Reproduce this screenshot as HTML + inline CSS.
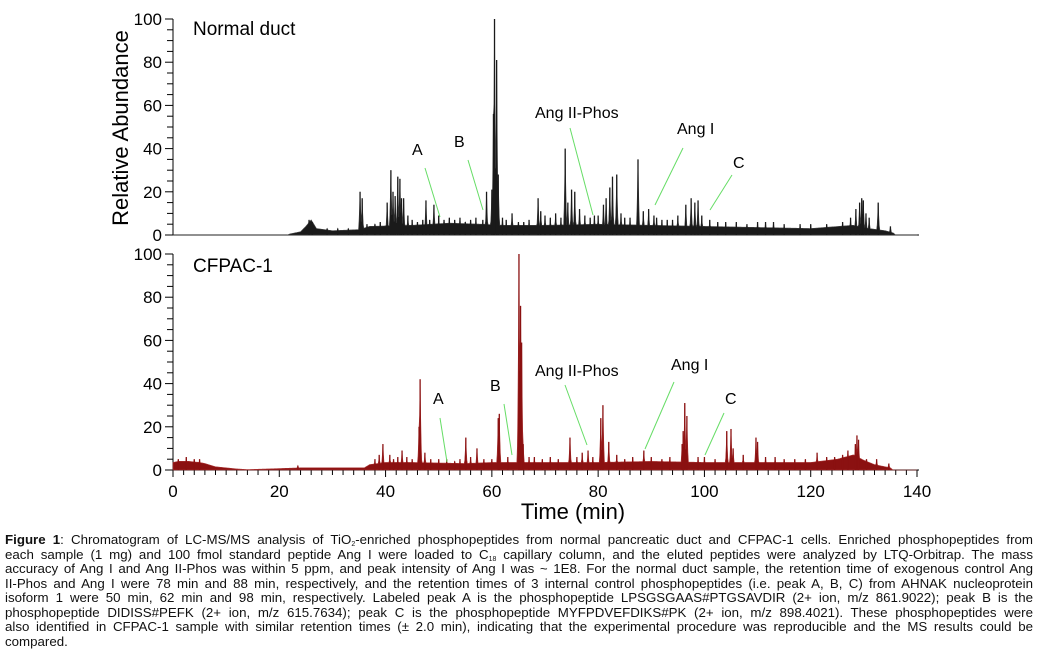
<!DOCTYPE html>
<html><head><meta charset="utf-8">
<style>
body{margin:0;background:#fff;width:1038px;height:669px;overflow:hidden;position:relative;font-family:"Liberation Sans",Arial,sans-serif}
svg{position:absolute;left:0;top:0}
#cap{position:absolute;left:5px;top:533px;width:1028px;font-size:13.3px;line-height:14.55px;color:#111}
#cap div{text-align:justify;text-align-last:justify;white-space:nowrap}
#cap div.last{text-align-last:left}
sub{font-size:7px;vertical-align:-2px;line-height:0}
</style></head><body>
<svg id="chart" width="1038" height="530" viewBox="0 0 1038 530" font-family="Liberation Sans, Arial, sans-serif">
<g id="axes"></g>
<g id="traces"></g>
<text x="128" y="128" font-size="22" text-anchor="middle" transform="rotate(-90 128 128)">Relative Abundance</text>
<text x="573" y="519" font-size="22" text-anchor="middle">Time (min)</text>
<text x="193" y="35" font-size="19">Normal duct</text>
<text x="193" y="272" font-size="19">CFPAC-1</text>
<g stroke="#66dd66" stroke-width="1">
<line x1="425" y1="168" x2="440" y2="217"/><line x1="468" y1="160" x2="483" y2="210"/>
<line x1="570" y1="128" x2="593" y2="215"/><line x1="683" y1="148" x2="655" y2="205"/>
<line x1="732" y1="175" x2="710" y2="210"/>
<line x1="440" y1="418" x2="447" y2="462"/><line x1="504" y1="404" x2="512" y2="455"/>
<line x1="565" y1="385" x2="587" y2="445"/><line x1="674" y1="382" x2="645" y2="449"/>
<line x1="724" y1="413" x2="705" y2="455"/>
</g>
<g font-size="16">
<text x="412" y="155">A</text>
<text x="454" y="147">B</text>
<text x="535" y="118">Ang II-Phos</text>
<text x="677" y="134">Ang I</text>
<text x="733" y="168">C</text>
<text x="433" y="404">A</text>
<text x="490" y="391">B</text>
<text x="535" y="376">Ang II-Phos</text>
<text x="671" y="370">Ang I</text>
<text x="725" y="404">C</text>
</g>
</svg>
<div id="cap">
<div><b>Figure 1</b>: Chromatogram of LC-MS/MS analysis of TiO<sub>2</sub>-enriched phosphopeptides from normal pancreatic duct and CFPAC-1 cells. Enriched phosphopeptides from</div>
<div>each sample (1 mg) and 100 fmol standard peptide Ang I were loaded to C<sub>18</sub> capillary column, and the eluted peptides were analyzed by LTQ-Orbitrap. The mass</div>
<div>accuracy of Ang I and Ang II-Phos was within 5 ppm, and peak intensity of Ang I was ~ 1E8. For the normal duct sample, the retention time of exogenous control Ang</div>
<div>II-Phos and Ang I were 78 min and 88 min, respectively, and the retention times of 3 internal control phosphopeptides (i.e. peak A, B, C) from AHNAK nucleoprotein</div>
<div>isoform 1 were 50 min, 62 min and 98 min, respectively. Labeled peak A is the phosphopeptide LPSGSGAAS#PTGSAVDIR (2+ ion, m/z 861.9022); peak B is the</div>
<div>phosphopeptide DIDISS#PEFK (2+ ion, m/z 615.7634); peak C is the phosphopeptide MYFPDVEFDIKS#PK (2+ ion, m/z 898.4021). These phosphopeptides were</div>
<div>also identified in CFPAC-1 sample with similar retention times (± 2.0 min), indicating that the experimental procedure was reproducible and the MS results could be</div>
<div class="last">compared.</div>
</div>
<script>
// ---- data ----
const xTicks = [0, 20, 40, 60, 80, 100, 120, 140];
const yTicks = [0, 20, 40, 60, 80, 100];
const normalBaseT = [0, 21.5, 22, 24, 25, 26, 27, 30, 35, 37, 45, 52, 58, 62, 70, 80, 90, 100, 110, 120, 128, 131, 134, 135.5, 136, 140];
const normalBaseV = [0, 0, 0.5, 1.5, 4, 7, 3, 2, 2.5, 4, 4.5, 5.5, 5, 4.5, 4.5, 5, 4.5, 4, 3.5, 3, 4.5, 3, 2, 1, 0, 0];
const normalPeakT = [25.6, 26.2, 29, 31, 33, 35.2, 35.6, 36.5, 38, 39, 40.3, 41, 41.4, 41.8, 42.3, 42.7, 43, 43.4, 44.2, 45, 46, 47, 47.6, 48.3, 49.1, 50, 51, 52, 53, 54, 55, 56, 57, 58.3, 59, 60, 60.3, 60.5, 60.9, 61.2, 62, 62.7, 63.8, 65, 66, 67, 68.7, 69.2, 70, 71, 72, 73, 73.8, 74.3, 75, 75.6, 76.5, 77.5, 78.5, 79.3, 80, 81, 81.5, 82.2, 82.7, 83.5, 84.3, 85, 86, 87.5, 88.5, 89.5, 90.5, 91, 92, 93, 94, 95, 96.5, 97.5, 98.2, 98.8, 99.5, 101, 102.5, 104, 106, 108, 110, 111.5, 113, 115, 118, 120, 123, 126, 127.5, 128.5, 129.2, 129.6, 129.9, 130.4, 131, 132.7, 135];
const normalPeakV = [7, 6, 3, 3, 3, 20, 17, 5, 5, 6, 15, 30, 20, 18, 27, 26, 17, 17, 9, 7, 6, 7, 16, 7, 14, 9, 7, 8, 7, 8, 6, 7, 8, 7, 20, 21, 56, 100, 81, 28, 8, 7, 10, 6, 6, 7, 17, 11, 9, 8, 10, 8, 40, 15, 21, 20, 12, 9, 8, 9, 9, 14, 17, 22, 27, 28, 10, 8, 8, 35, 11, 12, 9, 8, 7, 7, 7, 9, 14, 17, 15, 16, 9, 7, 6, 6, 6, 5, 6, 6, 6, 5, 5, 5, 5, 6, 8, 12, 15, 17, 16, 10, 8, 15, 4];
const cfpacBaseT = [0, 1, 3, 5, 6, 8, 10, 12, 14, 18, 24, 30, 36, 37, 40, 45, 55, 60, 66, 80, 90, 100, 110, 120, 125, 128, 130, 132, 134, 135, 135.5, 140];
const cfpacBaseV = [3.5, 4, 4, 3.5, 3, 1.5, 1, 0.5, 0.2, 0.5, 1, 1, 1, 2.5, 3.5, 3.5, 3, 3.5, 3.5, 3.5, 4, 3.5, 3.5, 3.5, 5, 7, 4.5, 2.5, 1.5, 1, 0, 0];
const cfpacPeakT = [1, 2.5, 4, 5, 23.5, 38, 38.8, 39.5, 40.8, 41.5, 42.3, 43.1, 44, 45, 46.3, 46.5, 47.4, 48.5, 50, 51.5, 53, 54, 55.1, 56, 57.2, 58.5, 60, 61.2, 61.4, 63, 65.1, 65.4, 65.6, 65.9, 67, 68, 69.5, 71, 72.5, 74.7, 76, 77, 78.1, 79, 80.5, 80.9, 82, 83.5, 85, 86.5, 88.6, 90, 92, 93.5, 95.8, 96, 96.3, 96.7, 98.8, 100, 102, 104.2, 105, 105.4, 107.3, 109.7, 110, 111.5, 113.3, 115, 117, 119, 121.2, 123, 124.5, 126, 127, 128.4, 128.7, 129, 130.5, 132.4, 134.7];
const cfpacPeakV = [5, 6, 5, 5, 2, 5, 7, 12, 7, 5, 6, 9, 6, 5, 20, 42, 8, 5, 5, 5, 4, 5, 15, 6, 10, 5, 5, 24, 26, 6, 100, 76, 59, 12, 6, 6, 5, 6, 5, 15, 6, 8, 9, 6, 24, 30, 13, 7, 5, 6, 9, 6, 5, 6, 12, 18, 31, 25, 6, 6, 5, 18, 19, 10, 7, 15, 13, 6, 6, 5, 5, 5, 8, 6, 6, 7, 9, 12, 16, 14, 5, 5, 3];

// ---- scales ----
const X0 = 173, X1 = 917;
const xs = t => X0 + (t / 140) * (X1 - X0);
const panels = [
  {name:'normal-duct', y0:235, y100:19, bT:normalBaseT, bV:normalBaseV, pT:normalPeakT, pV:normalPeakV, fill:'#1a1a1a', stroke:'#444', xaxis:false},
  {name:'cfpac-1', y0:470, y100:254, bT:cfpacBaseT, bV:cfpacBaseV, pT:cfpacPeakT, pV:cfpacPeakV, fill:'#8b1111', stroke:'#a33', xaxis:true}
];
const NS = 'http://www.w3.org/2000/svg';
const axes = document.getElementById('axes');
const traces = document.getElementById('traces');
function mk(tag, attrs, parent){const e=document.createElementNS(NS,tag);for(const k in attrs)e.setAttribute(k,attrs[k]);parent.appendChild(e);return e;}
function interp(T,V,t){for(let i=1;i<T.length;i++){if(t<=T[i]){const f=(t-T[i-1])/(T[i]-T[i-1]||1);return V[i-1]+f*(V[i]-V[i-1]);}}return V[V.length-1];}

panels.forEach(p=>{
  const ys = v => p.y0 - (v/100)*(p.y0-p.y100);
  const ax = mk('line',{x1:X0,y1:p.y100,x2:X0,y2:p.y0,stroke:'#000','stroke-width':1},axes);
  
  
  for(let v=0; v<=100; v+=5){
    const tk = mk('line',{x1:X0-(v%20===0?8:6),y1:ys(v),x2:X0,y2:ys(v),stroke:'#000','stroke-width':1},axes);
    
    
  }
  yTicks.forEach(v=>{
    const tl = mk('text',{x:X0-11,y:ys(v)+6,'font-size':17,'text-anchor':'end'},axes);
    tl.textContent = v;
    
    
  });
  const bx = mk('line',{x1:X0,y1:p.y0,x2:X1+2,y2:p.y0,stroke:'#000','stroke-width':1},axes);
  
  
  if(p.xaxis){
    for(let t=0;t<=140;t+=2){
      const tk = mk('line',{x1:xs(t),y1:p.y0,x2:xs(t),y2:p.y0+(t%20===0?7:5),stroke:'#000','stroke-width':1},axes);
      
      
    }
    xTicks.forEach(t=>{
      const tl = mk('text',{x:xs(t),y:p.y0+27,'font-size':17,'text-anchor':'middle'},axes);
      tl.textContent = t;
      
      
    });
  }
  const step = 0.1, hw = 0.45;
  let d = 'M'+xs(0)+','+p.y0;
  for(let t=0; t<=140.0001; t+=step){
    let v = interp(p.bT,p.bV,t);
    for(let i=0;i<p.pT.length;i++){
      const dt = Math.abs(t-p.pT[i]);
      if(dt<hw){ const h = p.pV[i]*Math.pow(1-dt/hw,2); if(h>v) v=h; }
    }
    d += 'L'+xs(t).toFixed(2)+','+ys(v).toFixed(2);
  }
  const tr = mk('path',{d:d+'L'+xs(140)+','+p.y0+'Z',fill:p.fill,stroke:p.stroke,'stroke-width':0.6},traces);
  
  
  p.pT.forEach((t,i)=>{
    const sp = mk('line',{x1:xs(t),y1:p.y0,x2:xs(t),y2:ys(p.pV[i]),stroke:p.fill,'stroke-width':1.3},traces);
    
    
  });
});
</script>
</body></html>
